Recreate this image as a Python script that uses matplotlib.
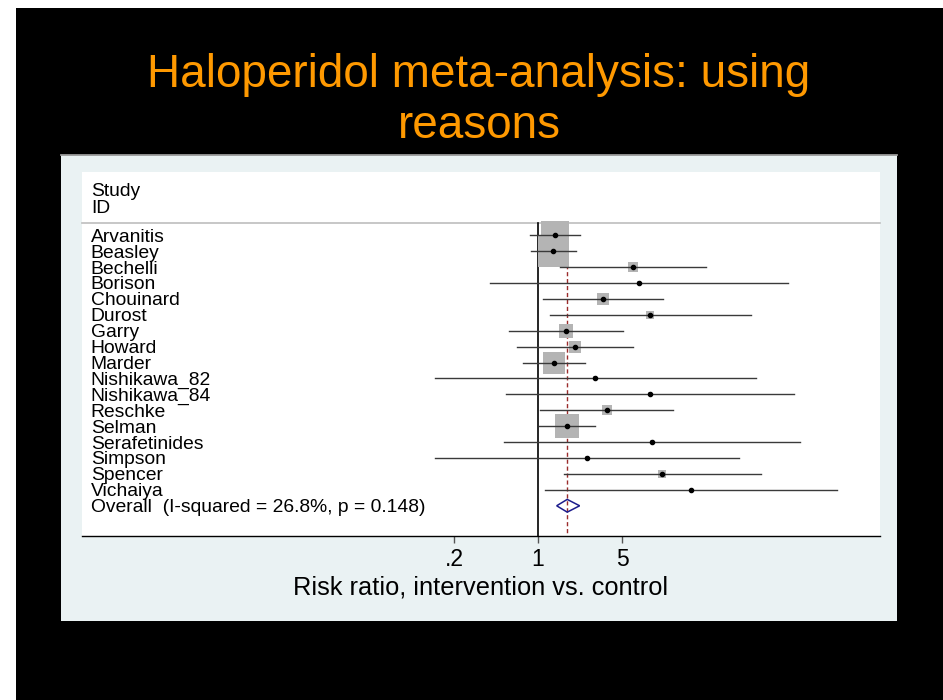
import matplotlib
matplotlib.use('Agg')
import matplotlib.pyplot as plt
from matplotlib.patches import Rectangle, Polygon
from matplotlib.lines import Line2D
from matplotlib.ticker import NullLocator
import matplotlib.transforms as mtransforms

plt.rcParams['font.family'] = ['Liberation Sans', 'DejaVu Sans']

# ---------------- data ----------------
studies = ["Arvanitis", "Beasley", "Bechelli", "Borison", "Chouinard", "Durost",
           "Garry", "Howard", "Marder", "Nishikawa_82", "Nishikawa_84", "Reschke",
           "Selman", "Serafetinides", "Simpson", "Spencer", "Vichaiya"]
rr = [1.38, 1.34, 6.14, 6.88, 3.45, 8.55, 1.70, 2.02, 1.36, 2.98, 8.55, 3.77,
      1.74, 8.93, 2.56, 10.8, 18.7]
ci_lo = [0.86, 0.88, 1.52, 0.40, 1.11, 1.26, 0.577, 0.669, 0.75, 0.138, 0.545,
         1.04, 1.02, 0.525, 0.138, 1.65, 1.14]
ci_hi = [2.22, 2.06, 25.1, 120, 10.9, 59, 5.10, 6.14, 2.48, 64.7, 134, 13.4,
         2.96, 150, 47.3, 71.2, 309]
weights = [21.6, 26.5, 2.4, 0.4, 3.8, 1.5, 4.9, 3.8, 13.3, 0.6, 0.4, 3.1,
           17.2, 0.4, 0.4, 2.1, 0.2]
overall_rr = 1.75
overall_lo = 1.43
overall_hi = 2.22
overall_label = "Overall  (I-squared = 26.8%, p = 0.148)"
tick_vals = [0.2, 1, 5]
tick_labels = [".2", "1", "5"]
title_line1 = "Haloperidol meta-analysis: using"
title_line2 = "reasons"
xlabel = "Risk ratio, intervention vs. control"

# ---------------- layout ----------------
W, H = 943, 700
fig = plt.figure(figsize=(W / 100, H / 100), dpi=100, facecolor='white')


def fx(x):
    return x / W


def fy(y):
    return 1 - y / H


fig.add_artist(Rectangle((fx(16), 0), 1 - fx(16), fy(8), transform=fig.transFigure,
                         facecolor='black', edgecolor='none', zorder=-3))
fig.add_artist(Rectangle((fx(61), fy(621)), fx(897) - fx(61), fy(155) - fy(621),
                         transform=fig.transFigure, facecolor='#EAF2F3',
                         edgecolor='none', zorder=-2))
fig.add_artist(Line2D([fx(61), fx(897)], [fy(155), fy(155)], transform=fig.transFigure,
                      color='#9a9a9a', lw=1.3, zorder=-1))

fig.text(fx(479), fy(87), title_line1, ha='center', va='baseline', fontsize=33,
         color='#FF9900')
fig.text(fx(479), fy(138), title_line2, ha='center', va='baseline', fontsize=33,
         color='#FF9900')

ax = fig.add_axes([fx(82), fy(536), fx(880) - fx(82), fy(172) - fy(536)], zorder=1)
ax.set_facecolor('white')
ax.set_xscale('log')
ax.set_xlim(10 ** (-456 / 120.2), 10 ** (342 / 120.2))
top_y, bot_y = -3.98, 18.9
ax.set_ylim(bot_y, top_y)
for s in ['top', 'left', 'right']:
    ax.spines[s].set_visible(False)
ax.spines['bottom'].set_color('black')
ax.spines['bottom'].set_linewidth(1.0)
ax.set_yticks([])
ax.set_xticks(tick_vals)
ax.set_xticklabels(tick_labels)
ax.xaxis.set_minor_locator(NullLocator())
ax.tick_params(axis='x', length=5, width=1, color='#555555', labelsize=16.5, pad=4)
ax.set_xlabel(xlabel, fontsize=18.3, labelpad=3)

trans = mtransforms.blended_transform_factory(ax.transAxes, ax.transData)
header_y = -0.77
ax.plot([0, 1], [header_y, header_y], transform=trans, color='#BDBDBD', lw=1.2,
        clip_on=False)
lab_fs = 13.9
dy = 0.12
ax.text(0.011, -2.86 + dy, "Study", transform=trans, va='center', ha='left', fontsize=lab_fs)
ax.text(0.011, -1.80 + dy, "ID", transform=trans, va='center', ha='left', fontsize=lab_fs)

ax.plot([1, 1], [header_y, bot_y], color='black', lw=1.2, zorder=2)
ax.plot([overall_rr, overall_rr], [header_y, bot_y], color='#9B2C2C', lw=1.0,
        ls=(0, (3, 2)), zorder=2)

n = len(studies)
for i in range(n):
    side_px = 31 * (weights[i] / 26.5) ** 0.5
    side_pt = side_px * 0.72
    ax.scatter([rr[i]], [i], marker='s', s=side_pt ** 2, color='#B4B4B4',
               linewidths=0, zorder=3)
    ax.plot([ci_lo[i], ci_hi[i]], [i, i], color='#3a3a3a', lw=1.0, zorder=4)
    ax.plot([rr[i]], [i], marker='o', ms=3.0, color='black', zorder=5)
    ax.text(0.011, i + dy, studies[i], transform=trans, va='center', ha='left',
            fontsize=lab_fs)

yo = n
h = 0.4
ax.add_patch(Polygon([(overall_lo, yo), (overall_rr, yo - h), (overall_hi, yo),
                      (overall_rr, yo + h)], closed=True, facecolor='none',
                     edgecolor='#1C1C8C', lw=1.1, zorder=5))
ax.text(0.011, yo + dy, overall_label, transform=trans, va='center', ha='left',
        fontsize=lab_fs)

fig.savefig('out.png', dpi=100, facecolor=fig.get_facecolor())
